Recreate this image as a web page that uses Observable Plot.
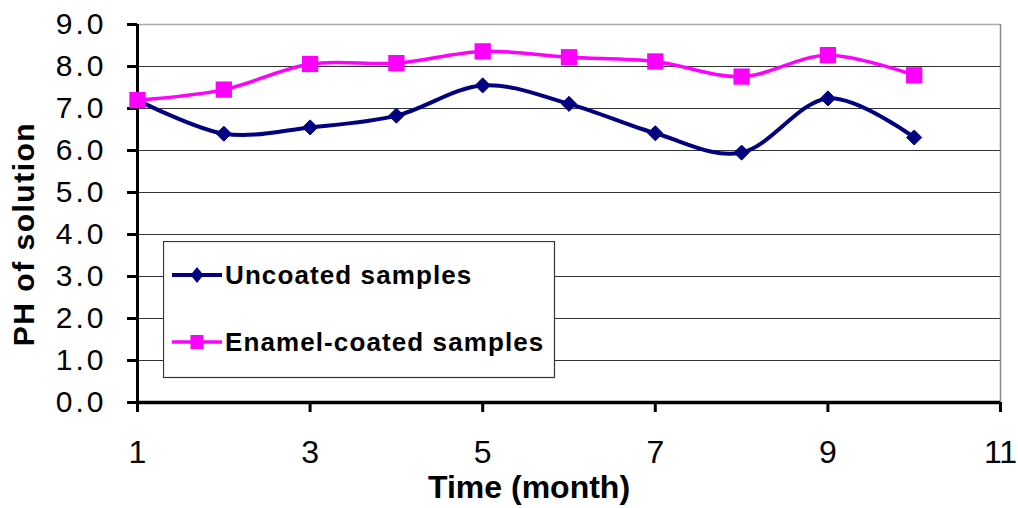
<!DOCTYPE html>
<html>
<head>
<meta charset="utf-8">
<script src="https://cdn.jsdelivr.net/npm/d3@7"></script>
<script src="https://cdn.jsdelivr.net/npm/@observablehq/plot@0.6"></script>
<style>
  body { margin: 0; background: #fff; }
  #wrap { position: relative; width: 1018px; height: 508px; font-family: "Liberation Sans", Arial, sans-serif; }
  #wrap svg text { font-family: "Liberation Sans", Arial, sans-serif; }
  g[aria-label="y-axis tick label"] text { letter-spacing: 3px; }
  #legend { position: absolute; left: 163px; top: 241px; }
</style>
</head>
<body>
<div id="wrap"></div>
<script>
const months = [1, 2, 3, 4, 5, 6, 7, 8, 9, 10];
const uncoated = [7.2, 6.4, 6.55, 6.83, 7.55, 7.11, 6.41, 5.95, 7.24, 6.31];
const enamel = [7.2, 7.45, 8.06, 8.08, 8.36, 8.22, 8.12, 7.76, 8.27, 7.79];
const seriesNames = ["Uncoated samples", "Enamel-coated samples"];
const seriesColors = ["#000080", "#FF00FF"];
const xTicks = [1, 3, 5, 7, 9, 11];
const yTicks = [0, 1, 2, 3, 4, 5, 6, 7, 8, 9];
const xTitle = "Time (month)";
const yTitle = "PH of solution";

const dataU = months.map((m, i) => ({x: m, y: uncoated[i]}));
const dataE = months.map((m, i) => ({x: m, y: enamel[i]}));

const chart = Plot.plot({
  width: 1018,
  height: 508,
  marginLeft: 137,
  marginRight: 18,
  marginTop: 24,
  marginBottom: 106,
  style: {fontFamily: "Liberation Sans, Arial, sans-serif", background: "#fff", color: "#000"},
  x: {domain: [1, 11]},
  y: {domain: [0, 9]},
  marks: [
    Plot.ruleY(yTicks.filter(d => d > 0 && d < 9), {stroke: "#333", strokeWidth: 1.2}),
    Plot.ruleY([9], {stroke: "#aaa", strokeWidth: 1.5}),
    Plot.ruleX([11], {stroke: "#888", strokeWidth: 1.5}),
    Plot.axisY({ticks: yTicks, tickSize: 10, tickPadding: 21, tickFormat: d3.format(".1f"), fontSize: 30, label: null, strokeWidth: 3, stroke: "#000"}),
    Plot.axisX({ticks: xTicks, tickSize: 10, tickPadding: 28, tickFormat: d => String(d), fontSize: 32, label: null, strokeWidth: 3, stroke: "#000"}),
    Plot.ruleX([1], {stroke: "#000", strokeWidth: 3}),
    Plot.ruleY([0], {stroke: "#000", strokeWidth: 3.5}),
    Plot.line(dataE, {x: "x", y: "y", stroke: seriesColors[1], strokeWidth: 3.5, curve: "cardinal", tension: 0}),
    Plot.line(dataU, {x: "x", y: "y", stroke: seriesColors[0], strokeWidth: 4, curve: "cardinal", tension: 0}),
    Plot.dot(dataU, {x: "x", y: "y", symbol: "diamond2", fill: seriesColors[0], stroke: seriesColors[0], strokeWidth: 1, r: 6.8}),
    Plot.dot(dataE, {x: "x", y: "y", symbol: "square", fill: seriesColors[1], stroke: "none", r: 9.2}),
    Plot.text([xTitle], {frameAnchor: "bottom", dx: -40, dy: 85, fontSize: 32, fontWeight: "bold", lineAnchor: "middle", fill: "#000"})
  ]
});

const wrap = document.getElementById("wrap");
wrap.appendChild(chart);

// y-axis title (rotated), appended to the chart SVG
d3.select(chart).append("text")
  .attr("transform", "translate(34,234) rotate(-90)")
  .attr("text-anchor", "middle")
  .attr("font-size", 30)
  .attr("font-weight", "bold")
  .attr("letter-spacing", "1.5")
  .attr("fill", "#000")
  .style("font-family", "Liberation Sans, Arial, sans-serif")
  .text(yTitle);

// legend overlay
const ns = "http://www.w3.org/2000/svg";
const leg = document.createElementNS(ns, "svg");
leg.setAttribute("id", "legend");
leg.setAttribute("width", 393);
leg.setAttribute("height", 138);
const rowY = [34, 101];
let html = `<rect x="0.5" y="0.5" width="391" height="136" fill="#fff" stroke="#333" stroke-width="1.2"/>`;
seriesNames.forEach((name, i) => {
  const cy = rowY[i];
  html += `<line x1="9" x2="59" y1="${cy}" y2="${cy}" stroke="${seriesColors[i]}" stroke-width="${i === 0 ? 4 : 3.5}"/>`;
  if (i === 0) {
    html += `<path d="M34,${cy - 8}L40.5,${cy}L34,${cy + 8}L27.5,${cy}Z" fill="${seriesColors[i]}"/>`;
  } else {
    html += `<rect x="27.5" y="${cy - 7}" width="13" height="14" fill="${seriesColors[i]}"/>`;
  }
  html += `<text x="62" y="${cy + 9}" font-size="26" font-weight="bold" letter-spacing="1.1" font-family="Liberation Sans, Arial, sans-serif" fill="#000">${name}</text>`;
});
leg.innerHTML = html;
wrap.appendChild(leg);
</script>
</body>
</html>
